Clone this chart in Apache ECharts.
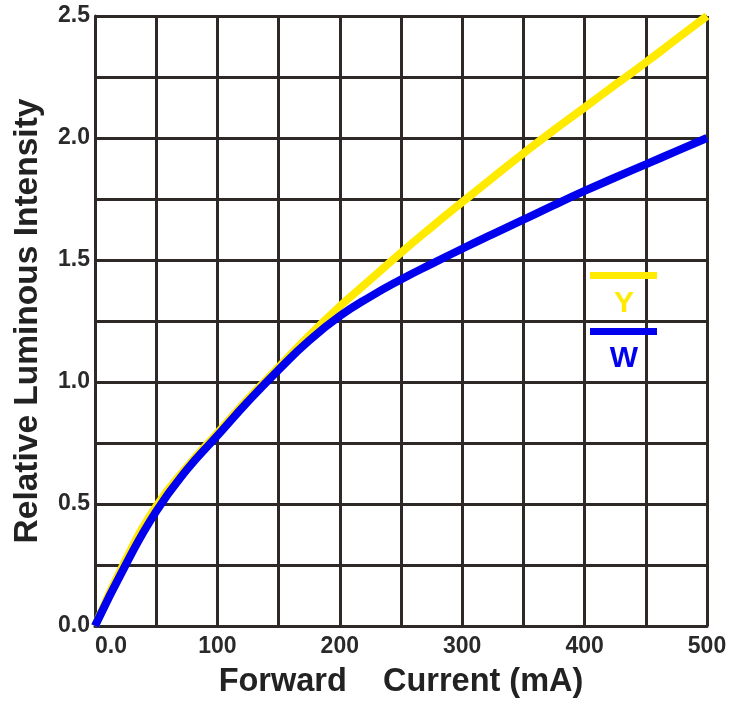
<!DOCTYPE html>
<html>
<head>
<meta charset="utf-8">
<script src="https://cdn.jsdelivr.net/npm/echarts@6/dist/echarts.min.js"></script>
<style>
html,body{margin:0;padding:0;background:#fff;}
#chart{width:743px;height:704px;}
</style>
</head>
<body>
<div id="chart"></div>
<script>
// Forward current (mA)
var currents = [0, 25, 50, 75, 100, 125, 150, 175, 200, 225, 250, 275, 300, 325, 350, 375, 400, 425, 450, 475, 500];
// Relative luminous intensity
var seriesY = [0, 0.27, 0.49, 0.65, 0.79, 0.93, 1.06, 1.19, 1.31, 1.42, 1.53, 1.635, 1.737, 1.838, 1.937, 2.033, 2.125, 2.218, 2.31, 2.405, 2.5];
var seriesW = [0, 0.25, 0.47, 0.64, 0.78, 0.92, 1.05, 1.17, 1.27, 1.35, 1.42, 1.484, 1.546, 1.606, 1.665, 1.725, 1.783, 1.838, 1.892, 1.946, 2.0];
var legendNames = ['Y', 'W'];
var xTickLabels = ['0.0', '100', '200', '300', '400', '500'];
var yTickLabels = ['0.0', '0.5', '1.0', '1.5', '2.0', '2.5'];

function pairs(xs, ys) { return xs.map(function (x, i) { return [x, ys[i]]; }); }

var FONT = '"Liberation Sans", Arial, sans-serif';
var GRID = '#2e2926';
var YELLOW = '#FFEA00';
var BLUE = '#0000EE';

var chart = echarts.init(document.getElementById('chart'), null, {renderer: 'canvas'});
chart.setOption({
  backgroundColor: '#ffffff',
  animation: false,
  grid: {left: 95, right: 36, top: 16, bottom: 76, containLabel: false},
  xAxis: {
    type: 'value', min: 0, max: 500, interval: 50,
    name: 'Forward    Current (mA)', nameLocation: 'middle', nameGap: 40,
    nameTextStyle: {fontFamily: FONT, fontWeight: 'bold', fontSize: 32.5, color: '#222'},
    axisLine: {show: true, lineStyle: {color: GRID, width: 3}},
    axisTick: {show: false},
    splitLine: {show: true, lineStyle: {color: GRID, width: 3}},
    axisLabel: {
      fontFamily: FONT, fontWeight: 'bold', fontSize: 23, color: '#2a2a2a', margin: 9,
      alignMinLabel: 'left',
      formatter: function (v) {
        if (v % 100 !== 0) return '';
        return xTickLabels[v / 100];
      }
    }
  },
  yAxis: {
    type: 'value', min: 0, max: 2.5, interval: 0.25,
    name: 'Relative Luminous Intensity', nameLocation: 'middle', nameGap: 50,
    nameTextStyle: {fontFamily: FONT, fontWeight: 'bold', fontSize: 33.5, color: '#222'},
    axisLine: {show: true, lineStyle: {color: GRID, width: 3}},
    axisTick: {show: false},
    splitLine: {show: true, lineStyle: {color: GRID, width: 3}},
    axisLabel: {
      fontFamily: FONT, fontWeight: 'bold', fontSize: 23, color: '#2a2a2a', margin: 5,
      formatter: function (v) {
        var k = Math.round(v * 100);
        if (k % 50 !== 0) return '';
        return yTickLabels[k / 50];
      }
    }
  },
  series: [
    {name: legendNames[0], type: 'line', smooth: 0.5, showSymbol: false, symbol: 'none',
     data: pairs(currents, seriesY), lineStyle: {color: YELLOW, width: 8}, z: 3},
    {name: legendNames[1], type: 'line', smooth: 0.5, showSymbol: false, symbol: 'none',
     data: pairs(currents, seriesW), lineStyle: {color: BLUE, width: 8}, z: 4}
  ],
  graphic: [
    {type: 'rect', left: 590, top: 272, shape: {width: 67, height: 7}, style: {fill: YELLOW}, z: 10},
    {type: 'text', x: 624, y: 304, style: {text: legendNames[0], fill: YELLOW, font: 'bold 30px ' + FONT, align: 'center', verticalAlign: 'middle'}, z: 10},
    {type: 'rect', left: 590, top: 328, shape: {width: 67, height: 7}, style: {fill: BLUE}, z: 10},
    {type: 'text', x: 624, y: 359, style: {text: legendNames[1], fill: BLUE, font: 'bold 30px ' + FONT, align: 'center', verticalAlign: 'middle'}, z: 10}
  ]
});
</script>
</body>
</html>
